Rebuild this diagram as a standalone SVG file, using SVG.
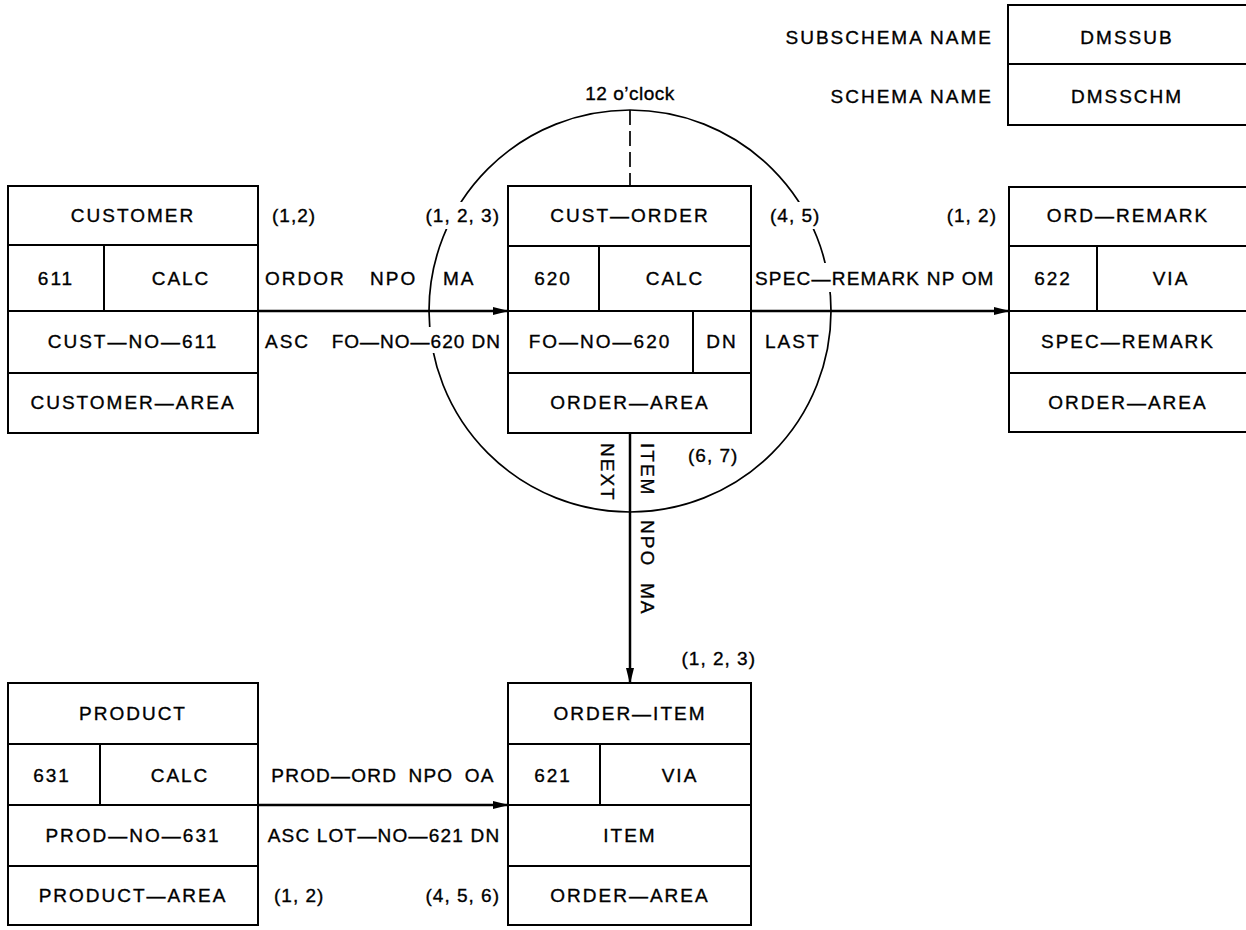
<svg xmlns="http://www.w3.org/2000/svg" width="1246" height="930" viewBox="0 0 1246 930">
<style>
text{font-family:"Liberation Sans",Arial,sans-serif;font-size:19px;fill:#000;stroke:#000;stroke-width:0.35px;letter-spacing:2px}
.c{text-anchor:middle}
.r{text-anchor:end}
.box{fill:#fff;stroke:#000;stroke-width:2}
.ln{stroke:#000;stroke-width:2;fill:none}
.conn{stroke:#000;stroke-width:2.5;fill:none}
.circ{stroke:#000;stroke-width:1.7;fill:none}
</style>
<defs>
<marker id="ah" markerWidth="16" markerHeight="10" refX="15" refY="5" orient="auto" markerUnits="userSpaceOnUse">
<path d="M0,1 L16,5 L0,9 Z" fill="#000"/>
</marker>
<mask id="gaps" maskUnits="userSpaceOnUse" x="0" y="0" width="1246" height="930">
<rect width="1246" height="930" fill="#fff"/>
<rect x="420" y="202" width="82" height="27" fill="#000"/>
<rect x="330" y="327" width="172" height="26" fill="#000"/>
<rect x="768" y="202" width="56" height="27" fill="#000"/>
<rect x="755" y="263" width="250" height="29" fill="#000"/>
</mask>
</defs>
<rect width="1246" height="930" fill="#fff"/>

<g id="circle-12oclock">
<circle class="circ" cx="630" cy="311" r="201" mask="url(#gaps)"/>
<line class="circ" x1="630" y1="110" x2="630" y2="186" stroke-dasharray="15,6" stroke-width="2.2"/>
<text class="c" x="630" y="100" style="letter-spacing:0.5px">12 o’clock</text>
</g>

<g id="schema-names">
<path class="ln" d="M1247,5 H1008 V125 H1247 M1008,64 H1247"/>
<text class="r" x="993" y="44">SUBSCHEMA NAME</text>
<text class="r" x="993" y="103">SCHEMA NAME</text>
<text class="c" x="1127" y="44">DMSSUB</text>
<text class="c" x="1127" y="103">DMSSCHM</text>
</g>

<g id="connectors">
<line class="conn" x1="258" y1="311" x2="508" y2="311" marker-end="url(#ah)"/>
<line class="conn" x1="751" y1="311" x2="1009" y2="311" marker-end="url(#ah)"/>
<line class="conn" x1="630" y1="433" x2="630" y2="683" marker-end="url(#ah)"/>
<line class="conn" x1="258" y1="805" x2="508" y2="805" marker-end="url(#ah)"/>
</g>

<g id="customer">
<rect class="box" x="8" y="186" width="250" height="247"/>
<path class="ln" d="M8,245 H258 M8,311 H258 M8,373 H258 M104,245 V311"/>
<text class="c" x="133" y="222">CUSTOMER</text>
<text class="c" x="56" y="285">611</text>
<text class="c" x="181" y="285">CALC</text>
<text class="c" x="133" y="348">CUST—NO—611</text>
<text class="c" x="133" y="409">CUSTOMER—AREA</text>
</g>

<g id="cust-order">
<rect class="box" x="508" y="186" width="243" height="247"/>
<path class="ln" d="M508,246 H751 M508,311 H751 M508,373 H751 M599,246 V311 M693,311 V373"/>
<text class="c" x="630" y="222">CUST—ORDER</text>
<text class="c" x="553" y="285">620</text>
<text class="c" x="675" y="285">CALC</text>
<text class="c" x="600" y="348">FO—NO—620</text>
<text class="c" x="722" y="348">DN</text>
<text class="c" x="630" y="409">ORDER—AREA</text>
</g>

<g id="ord-remark">
<path class="ln" d="M1247,187 H1009 V432 H1247 M1009,246 H1247 M1009,311 H1247 M1009,373 H1247 M1097,246 V311"/>
<text class="c" x="1128" y="222">ORD—REMARK</text>
<text class="c" x="1053" y="285">622</text>
<text class="c" x="1171" y="285">VIA</text>
<text class="c" x="1128" y="348">SPEC—REMARK</text>
<text class="c" x="1128" y="409">ORDER—AREA</text>
</g>

<g id="product">
<rect class="box" x="8" y="683" width="250" height="242"/>
<path class="ln" d="M8,744 H258 M8,805 H258 M8,866 H258 M100,744 V805"/>
<text class="c" x="133" y="720">PRODUCT</text>
<text class="c" x="52" y="782">631</text>
<text class="c" x="180" y="782">CALC</text>
<text class="c" x="133" y="842">PROD—NO—631</text>
<text class="c" x="133" y="902">PRODUCT—AREA</text>
</g>

<g id="order-item">
<rect class="box" x="508" y="683" width="243" height="242"/>
<path class="ln" d="M508,744 H751 M508,805 H751 M508,866 H751 M600,744 V805"/>
<text class="c" x="630" y="720">ORDER—ITEM</text>
<text class="c" x="553" y="782">621</text>
<text class="c" x="680" y="782">VIA</text>
<text class="c" x="630" y="842">ITEM</text>
<text class="c" x="630" y="902">ORDER—AREA</text>
</g>

<g id="labels">
<text x="272" y="222" style="letter-spacing:1px">(1,2)</text>
<text class="r" x="500" y="222" style="letter-spacing:1px">(1, 2, 3)</text>
<text x="265" y="285">ORDOR</text>
<text x="370" y="285">NPO</text>
<text x="443" y="285">MA</text>
<text x="265" y="348">ASC</text>
<text class="r" x="501" y="348" style="letter-spacing:1px">FO—NO—620 DN</text>
<text x="770" y="222" style="letter-spacing:1px">(4, 5)</text>
<text class="r" x="997" y="222" style="letter-spacing:1px">(1, 2)</text>
<text x="755" y="285" style="letter-spacing:1.2px">SPEC—REMARK NP OM</text>
<text x="765" y="348">LAST</text>
<text x="688" y="462" style="letter-spacing:1px">(6, 7)</text>
<text transform="translate(601,443) rotate(90)">NEXT</text>
<text transform="translate(641,443) rotate(90)">ITEM</text>
<text transform="translate(641,520) rotate(90)">NPO</text>
<text transform="translate(641,583) rotate(90)">MA</text>
<text class="r" x="756" y="665" style="letter-spacing:1px">(1, 2, 3)</text>
<text class="c" x="383" y="782" style="letter-spacing:1.2px;word-spacing:5px">PROD—ORD NPO OA</text>
<text class="c" x="384" y="842" style="letter-spacing:1.2px">ASC LOT—NO—621 DN</text>
<text x="274" y="902" style="letter-spacing:1px">(1, 2)</text>
<text class="r" x="500" y="902" style="letter-spacing:1px">(4, 5, 6)</text>
</g>
</svg>
